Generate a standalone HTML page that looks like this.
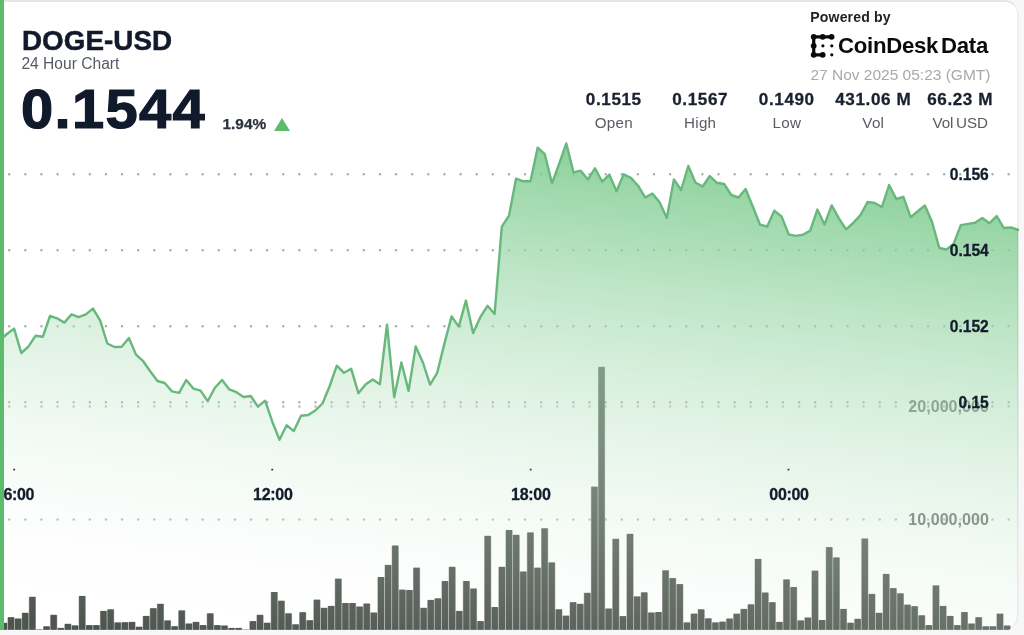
<!DOCTYPE html>
<html lang="en">
<head>
<meta charset="utf-8">
<title>DOGE-USD 24 Hour Chart</title>
<style>
  html, body { margin:0; padding:0; }
  body { width:1024px; height:635px; overflow:hidden; background:#f7f7f7; position:relative;
         font-family:"Liberation Sans", sans-serif; color:#101a2b; }
  .card { position:absolute; left:0; top:0; width:1019.4px; height:631.2px; background:#fff;
          border-radius:0 14px 16px 0; overflow:hidden; box-sizing:border-box; }
  .frame { position:absolute; left:-20px; top:0; width:1039.4px; height:631.2px; box-sizing:border-box;
           border:2.3px solid rgba(0,0,0,0.062); border-top:2px solid #e6e6e6; border-bottom:1px solid rgba(0,0,0,0.03); border-radius:0 14px 16px 0; pointer-events:none; }
  .accent { position:absolute; left:0; top:0; width:3.6px; height:630px; background:#5dbb6d; }
  svg.chart { position:absolute; left:0; top:0; }
  .t { position:absolute; white-space:nowrap; line-height:1; margin:0; }
  .pair   { left:22px; top:26.6px; font-size:27.8px; font-weight:700; letter-spacing:0.05px; -webkit-text-stroke:0.5px #101a2b; }
  .sub    { left:21.4px; top:55.6px; font-size:15.6px; font-weight:400; color:#555b62; }
  .price  { left:20.9px; top:82.1px; font-size:55.4px; font-weight:700; letter-spacing:1.25px; -webkit-text-stroke:1.2px #101a2b; transform:scaleX(1.045); transform-origin:0 0; }
  .chg    { left:222.4px; top:115.9px; font-size:15.4px; font-weight:700; color:#2c333d; letter-spacing:0.05px; -webkit-text-stroke:0.25px #2c333d; }
  .tri    { position:absolute; left:274.2px; top:117.9px; width:0; height:0; border-left:8.6px solid transparent; border-right:8.6px solid transparent; border-bottom:13.8px solid #5dbb6d; }
  .pow    { left:810.3px; top:9.5px; font-size:14.1px; font-weight:700; color:#222; letter-spacing:0.12px; }
  .brand  { left:838px; top:35.1px; font-size:22.2px; font-weight:700; color:#0a0a0a; letter-spacing:-0.28px; word-spacing:-3px; }
  .date   { left:810.4px; top:67.4px; font-size:15.5px; color:#a9a9a9; }
  .stat   { position:absolute; top:0; width:120px; margin-left:-60px; text-align:center; }
  .stat b { position:absolute; left:0; right:0; top:90.6px; font-size:17.1px; font-weight:700; line-height:1; color:#1a2230; letter-spacing:0.6px; white-space:nowrap; -webkit-text-stroke:0.3px #1a2230; }
  .stat span { position:absolute; left:0; right:0; top:114.9px; font-size:15.2px; line-height:1; color:#575c63; letter-spacing:0.25px; white-space:nowrap; }
</style>
</head>
<body>
<main class="card">
  <svg class="chart" width="1024" height="635" viewBox="0 0 1024 635" role="img" aria-label="DOGE-USD 24 hour price and volume chart">
    <defs>
      <linearGradient id="fill" x1="0" y1="-16.0" x2="-78.14" y2="604.15" gradientUnits="userSpaceOnUse">
        <stop offset="0.0000" stop-color="#63c178" stop-opacity="1.0000"/>
        <stop offset="0.0417" stop-color="#6ac47e" stop-opacity="0.9583"/>
        <stop offset="0.0833" stop-color="#70c683" stop-opacity="0.9167"/>
        <stop offset="0.1250" stop-color="#76c989" stop-opacity="0.8750"/>
        <stop offset="0.1667" stop-color="#7dcb8e" stop-opacity="0.8333"/>
        <stop offset="0.2083" stop-color="#84ce94" stop-opacity="0.7917"/>
        <stop offset="0.2500" stop-color="#8ad09a" stop-opacity="0.7500"/>
        <stop offset="0.2917" stop-color="#90d39f" stop-opacity="0.7083"/>
        <stop offset="0.3333" stop-color="#97d6a5" stop-opacity="0.6667"/>
        <stop offset="0.3750" stop-color="#9ed8ab" stop-opacity="0.6250"/>
        <stop offset="0.4167" stop-color="#a4dbb0" stop-opacity="0.5833"/>
        <stop offset="0.4583" stop-color="#aaddb6" stop-opacity="0.5417"/>
        <stop offset="0.5000" stop-color="#b1e0bc" stop-opacity="0.5000"/>
        <stop offset="0.5417" stop-color="#b8e3c1" stop-opacity="0.4583"/>
        <stop offset="0.5833" stop-color="#bee5c7" stop-opacity="0.4167"/>
        <stop offset="0.6250" stop-color="#c4e8cc" stop-opacity="0.3750"/>
        <stop offset="0.6667" stop-color="#cbead2" stop-opacity="0.3333"/>
        <stop offset="0.7083" stop-color="#d2edd8" stop-opacity="0.2917"/>
        <stop offset="0.7500" stop-color="#d8f0dd" stop-opacity="0.2500"/>
        <stop offset="0.7917" stop-color="#def2e3" stop-opacity="0.2083"/>
        <stop offset="0.8333" stop-color="#e5f5e8" stop-opacity="0.1667"/>
        <stop offset="0.8750" stop-color="#ecf7ee" stop-opacity="0.1250"/>
        <stop offset="0.9167" stop-color="#f2faf4" stop-opacity="0.0833"/>
        <stop offset="0.9583" stop-color="#f8fcf9" stop-opacity="0.0417"/>
        <stop offset="1.0000" stop-color="#ffffff" stop-opacity="0.0000"/>
      </linearGradient>    </defs>
    <g>
<line x1="9.2" y1="174.3" x2="1018" y2="174.3" stroke="#8e8e8e" stroke-opacity="0.72" stroke-width="2.5" stroke-linecap="round" stroke-dasharray="0.01 16.11" />
<line x1="9.2" y1="250.2" x2="1018" y2="250.2" stroke="#8e8e8e" stroke-opacity="0.72" stroke-width="2.5" stroke-linecap="round" stroke-dasharray="0.01 16.11" />
<line x1="9.2" y1="326.3" x2="1018" y2="326.3" stroke="#8e8e8e" stroke-opacity="0.72" stroke-width="2.5" stroke-linecap="round" stroke-dasharray="0.01 16.11" />
<line x1="9.2" y1="402.2" x2="1018" y2="402.2" stroke="#8e8e8e" stroke-opacity="0.72" stroke-width="2.5" stroke-linecap="round" stroke-dasharray="0.01 16.11" />
<line x1="9.2" y1="406.6" x2="1018" y2="406.6" stroke="#8e8e8e" stroke-opacity="0.62" stroke-width="2.5" stroke-linecap="round" stroke-dasharray="0.01 16.11" />
<line x1="9.2" y1="519.5" x2="1018" y2="519.5" stroke="#8e8e8e" stroke-opacity="0.62" stroke-width="2.5" stroke-linecap="round" stroke-dasharray="0.01 16.11" />
    </g>
    <g fill="#4e554e" fill-opacity="0.45">
<rect x="0.29" y="623.2" width="7.21" height="6.6"/>
<rect x="7.41" y="617.6" width="7.21" height="12.2"/>
<rect x="14.52" y="618.9" width="7.21" height="10.9"/>
<rect x="21.64" y="613.2" width="7.21" height="16.6"/>
<rect x="28.75" y="597.2" width="7.21" height="32.6"/>
<rect x="35.87" y="629.6" width="7.21" height="0.2"/>
<rect x="42.98" y="626.7" width="7.21" height="3.1"/>
<rect x="50.10" y="615.2" width="7.21" height="14.6"/>
<rect x="57.21" y="628.3" width="7.21" height="1.5"/>
<rect x="64.33" y="624.2" width="7.21" height="5.6"/>
<rect x="71.44" y="625.8" width="7.21" height="4.0"/>
<rect x="78.56" y="596.3" width="7.21" height="33.5"/>
<rect x="85.67" y="625.5" width="7.21" height="4.3"/>
<rect x="92.79" y="625.5" width="7.21" height="4.3"/>
<rect x="99.90" y="611.3" width="7.21" height="18.5"/>
<rect x="107.02" y="609.7" width="7.21" height="20.1"/>
<rect x="114.13" y="622.8" width="7.21" height="7.0"/>
<rect x="121.25" y="622.6" width="7.21" height="7.2"/>
<rect x="128.36" y="622.3" width="7.21" height="7.5"/>
<rect x="135.48" y="627.1" width="7.21" height="2.7"/>
<rect x="142.59" y="616.3" width="7.21" height="13.5"/>
<rect x="149.71" y="608.6" width="7.21" height="21.2"/>
<rect x="156.82" y="604.2" width="7.21" height="25.6"/>
<rect x="163.94" y="620.8" width="7.21" height="9.0"/>
<rect x="171.05" y="626.6" width="7.21" height="3.2"/>
<rect x="178.17" y="610.8" width="7.21" height="19.0"/>
<rect x="185.28" y="623.9" width="7.21" height="5.9"/>
<rect x="192.40" y="622.3" width="7.21" height="7.5"/>
<rect x="199.51" y="625.5" width="7.21" height="4.3"/>
<rect x="206.63" y="613.7" width="7.21" height="16.1"/>
<rect x="213.74" y="625.5" width="7.21" height="4.3"/>
<rect x="220.86" y="625.9" width="7.21" height="3.9"/>
<rect x="227.97" y="628.3" width="7.21" height="1.5"/>
<rect x="235.09" y="628.3" width="7.21" height="1.5"/>
<rect x="242.20" y="629.6" width="7.21" height="0.2"/>
<rect x="249.32" y="621.5" width="7.21" height="8.3"/>
<rect x="256.43" y="615.2" width="7.21" height="14.6"/>
<rect x="263.55" y="623.1" width="7.21" height="6.7"/>
<rect x="270.66" y="592.4" width="7.21" height="37.4"/>
<rect x="277.78" y="601.1" width="7.21" height="28.7"/>
<rect x="284.89" y="613.7" width="7.21" height="16.1"/>
<rect x="292.01" y="624.7" width="7.21" height="5.1"/>
<rect x="299.12" y="612.6" width="7.21" height="17.2"/>
<rect x="306.24" y="620.6" width="7.21" height="9.2"/>
<rect x="313.35" y="600.0" width="7.21" height="29.8"/>
<rect x="320.47" y="608.2" width="7.21" height="21.6"/>
<rect x="327.58" y="606.3" width="7.21" height="23.5"/>
<rect x="334.70" y="579.0" width="7.21" height="50.8"/>
<rect x="341.81" y="603.4" width="7.21" height="26.4"/>
<rect x="348.93" y="603.4" width="7.21" height="26.4"/>
<rect x="356.04" y="606.9" width="7.21" height="22.9"/>
<rect x="363.16" y="603.9" width="7.21" height="25.9"/>
<rect x="370.27" y="612.9" width="7.21" height="16.9"/>
<rect x="377.39" y="577.4" width="7.21" height="52.4"/>
<rect x="384.50" y="565.3" width="7.21" height="64.5"/>
<rect x="391.62" y="545.9" width="7.21" height="83.9"/>
<rect x="398.73" y="590.0" width="7.21" height="39.8"/>
<rect x="405.85" y="590.4" width="7.21" height="39.4"/>
<rect x="412.96" y="568.0" width="7.21" height="61.8"/>
<rect x="420.08" y="608.2" width="7.21" height="21.6"/>
<rect x="427.19" y="600.3" width="7.21" height="29.5"/>
<rect x="434.31" y="598.7" width="7.21" height="31.1"/>
<rect x="441.42" y="581.4" width="7.21" height="48.4"/>
<rect x="448.54" y="567.2" width="7.21" height="62.6"/>
<rect x="455.65" y="611.3" width="7.21" height="18.5"/>
<rect x="462.77" y="581.4" width="7.21" height="48.4"/>
<rect x="469.88" y="588.9" width="7.21" height="40.9"/>
<rect x="477.00" y="621.5" width="7.21" height="8.3"/>
<rect x="484.11" y="536.2" width="7.21" height="93.6"/>
<rect x="491.23" y="607.4" width="7.21" height="22.4"/>
<rect x="498.34" y="567.2" width="7.21" height="62.6"/>
<rect x="505.46" y="530.4" width="7.21" height="99.4"/>
<rect x="512.57" y="535.2" width="7.21" height="94.6"/>
<rect x="519.69" y="571.9" width="7.21" height="57.9"/>
<rect x="526.80" y="532.8" width="7.21" height="97.0"/>
<rect x="533.92" y="568.0" width="7.21" height="61.8"/>
<rect x="541.03" y="528.7" width="7.21" height="101.1"/>
<rect x="548.15" y="562.8" width="7.21" height="67.0"/>
<rect x="555.26" y="609.7" width="7.21" height="20.1"/>
<rect x="562.38" y="616.0" width="7.21" height="13.8"/>
<rect x="569.49" y="602.6" width="7.21" height="27.2"/>
<rect x="576.61" y="604.2" width="7.21" height="25.6"/>
<rect x="583.72" y="593.2" width="7.21" height="36.6"/>
<rect x="590.84" y="487.0" width="7.21" height="142.8"/>
<rect x="597.95" y="367.2" width="7.21" height="262.6"/>
<rect x="605.07" y="608.9" width="7.21" height="20.9"/>
<rect x="612.18" y="539.2" width="7.21" height="90.6"/>
<rect x="619.30" y="616.5" width="7.21" height="13.3"/>
<rect x="626.41" y="534.2" width="7.21" height="95.6"/>
<rect x="633.53" y="596.8" width="7.21" height="33.0"/>
<rect x="640.64" y="592.7" width="7.21" height="37.1"/>
<rect x="647.76" y="612.9" width="7.21" height="16.9"/>
<rect x="654.87" y="612.4" width="7.21" height="17.4"/>
<rect x="661.99" y="570.7" width="7.21" height="59.1"/>
<rect x="669.10" y="578.5" width="7.21" height="51.3"/>
<rect x="676.22" y="584.5" width="7.21" height="45.3"/>
<rect x="683.33" y="622.8" width="7.21" height="7.0"/>
<rect x="690.45" y="614.0" width="7.21" height="15.8"/>
<rect x="697.56" y="609.7" width="7.21" height="20.1"/>
<rect x="704.68" y="618.7" width="7.21" height="11.1"/>
<rect x="711.79" y="622.8" width="7.21" height="7.0"/>
<rect x="718.91" y="622.0" width="7.21" height="7.8"/>
<rect x="726.02" y="618.9" width="7.21" height="10.9"/>
<rect x="733.14" y="614.0" width="7.21" height="15.8"/>
<rect x="740.25" y="609.3" width="7.21" height="20.5"/>
<rect x="747.37" y="604.7" width="7.21" height="25.1"/>
<rect x="754.48" y="559.3" width="7.21" height="70.5"/>
<rect x="761.60" y="592.9" width="7.21" height="36.9"/>
<rect x="768.71" y="602.6" width="7.21" height="27.2"/>
<rect x="775.83" y="622.3" width="7.21" height="7.5"/>
<rect x="782.94" y="579.8" width="7.21" height="50.0"/>
<rect x="790.06" y="587.4" width="7.21" height="42.4"/>
<rect x="797.17" y="620.8" width="7.21" height="9.0"/>
<rect x="804.29" y="617.9" width="7.21" height="11.9"/>
<rect x="811.40" y="571.0" width="7.21" height="58.8"/>
<rect x="818.52" y="620.4" width="7.21" height="9.4"/>
<rect x="825.63" y="547.5" width="7.21" height="82.3"/>
<rect x="832.75" y="557.8" width="7.21" height="72.0"/>
<rect x="839.86" y="609.3" width="7.21" height="20.5"/>
<rect x="846.98" y="623.1" width="7.21" height="6.7"/>
<rect x="854.09" y="619.2" width="7.21" height="10.6"/>
<rect x="861.21" y="538.9" width="7.21" height="90.9"/>
<rect x="868.32" y="594.3" width="7.21" height="35.5"/>
<rect x="875.44" y="613.2" width="7.21" height="16.6"/>
<rect x="882.55" y="574.3" width="7.21" height="55.5"/>
<rect x="889.67" y="588.5" width="7.21" height="41.3"/>
<rect x="896.78" y="593.7" width="7.21" height="36.1"/>
<rect x="903.90" y="605.0" width="7.21" height="24.8"/>
<rect x="911.01" y="606.6" width="7.21" height="23.2"/>
<rect x="918.13" y="615.7" width="7.21" height="14.1"/>
<rect x="925.24" y="625.5" width="7.21" height="4.3"/>
<rect x="932.36" y="585.8" width="7.21" height="44.0"/>
<rect x="939.47" y="606.3" width="7.21" height="23.5"/>
<rect x="946.59" y="616.3" width="7.21" height="13.5"/>
<rect x="953.70" y="625.5" width="7.21" height="4.3"/>
<rect x="960.82" y="612.4" width="7.21" height="17.4"/>
<rect x="967.93" y="623.9" width="7.21" height="5.9"/>
<rect x="975.05" y="617.6" width="7.21" height="12.2"/>
<rect x="982.16" y="626.7" width="7.21" height="3.1"/>
<rect x="989.28" y="626.7" width="7.21" height="3.1"/>
<rect x="996.39" y="614.0" width="7.21" height="15.8"/>
<rect x="1003.51" y="625.9" width="7.21" height="3.9"/>
    </g>
    <g fill="#4e554e">
<rect x="0.80" y="622.8" width="6.2" height="7.0"/>
<rect x="7.92" y="617.2" width="6.2" height="12.6"/>
<rect x="15.03" y="618.5" width="6.2" height="11.3"/>
<rect x="22.14" y="612.8" width="6.2" height="17.0"/>
<rect x="29.26" y="596.8" width="6.2" height="33.0"/>
<rect x="36.38" y="629.3" width="6.2" height="0.5"/>
<rect x="43.49" y="626.3" width="6.2" height="3.5"/>
<rect x="50.60" y="614.8" width="6.2" height="15.0"/>
<rect x="57.72" y="627.9" width="6.2" height="1.9"/>
<rect x="64.84" y="623.8" width="6.2" height="6.0"/>
<rect x="71.95" y="625.4" width="6.2" height="4.4"/>
<rect x="79.07" y="595.9" width="6.2" height="33.9"/>
<rect x="86.18" y="625.1" width="6.2" height="4.7"/>
<rect x="93.30" y="625.1" width="6.2" height="4.7"/>
<rect x="100.41" y="610.9" width="6.2" height="18.9"/>
<rect x="107.53" y="609.3" width="6.2" height="20.5"/>
<rect x="114.64" y="622.4" width="6.2" height="7.4"/>
<rect x="121.76" y="622.2" width="6.2" height="7.6"/>
<rect x="128.87" y="621.9" width="6.2" height="7.9"/>
<rect x="135.99" y="626.7" width="6.2" height="3.1"/>
<rect x="143.10" y="615.9" width="6.2" height="13.9"/>
<rect x="150.22" y="608.2" width="6.2" height="21.6"/>
<rect x="157.33" y="603.8" width="6.2" height="26.0"/>
<rect x="164.45" y="620.4" width="6.2" height="9.4"/>
<rect x="171.56" y="626.2" width="6.2" height="3.6"/>
<rect x="178.68" y="610.4" width="6.2" height="19.4"/>
<rect x="185.79" y="623.5" width="6.2" height="6.3"/>
<rect x="192.91" y="621.9" width="6.2" height="7.9"/>
<rect x="200.02" y="625.1" width="6.2" height="4.7"/>
<rect x="207.14" y="613.3" width="6.2" height="16.5"/>
<rect x="214.25" y="625.1" width="6.2" height="4.7"/>
<rect x="221.37" y="625.5" width="6.2" height="4.3"/>
<rect x="228.48" y="627.9" width="6.2" height="1.9"/>
<rect x="235.60" y="627.9" width="6.2" height="1.9"/>
<rect x="242.71" y="629.5" width="6.2" height="0.3"/>
<rect x="249.83" y="621.1" width="6.2" height="8.7"/>
<rect x="256.94" y="614.8" width="6.2" height="15.0"/>
<rect x="264.05" y="622.7" width="6.2" height="7.1"/>
<rect x="271.17" y="592.0" width="6.2" height="37.8"/>
<rect x="278.28" y="600.7" width="6.2" height="29.1"/>
<rect x="285.40" y="613.3" width="6.2" height="16.5"/>
<rect x="292.51" y="624.3" width="6.2" height="5.5"/>
<rect x="299.63" y="612.2" width="6.2" height="17.6"/>
<rect x="306.74" y="620.2" width="6.2" height="9.6"/>
<rect x="313.86" y="599.6" width="6.2" height="30.2"/>
<rect x="320.97" y="607.8" width="6.2" height="22.0"/>
<rect x="328.09" y="605.9" width="6.2" height="23.9"/>
<rect x="335.20" y="578.6" width="6.2" height="51.2"/>
<rect x="342.32" y="603.0" width="6.2" height="26.8"/>
<rect x="349.43" y="603.0" width="6.2" height="26.8"/>
<rect x="356.55" y="606.5" width="6.2" height="23.3"/>
<rect x="363.66" y="603.5" width="6.2" height="26.3"/>
<rect x="370.78" y="612.5" width="6.2" height="17.3"/>
<rect x="377.89" y="577.0" width="6.2" height="52.8"/>
<rect x="385.01" y="564.9" width="6.2" height="64.9"/>
<rect x="392.12" y="545.5" width="6.2" height="84.3"/>
<rect x="399.24" y="589.6" width="6.2" height="40.2"/>
<rect x="406.35" y="590.0" width="6.2" height="39.8"/>
<rect x="413.47" y="567.6" width="6.2" height="62.2"/>
<rect x="420.58" y="607.8" width="6.2" height="22.0"/>
<rect x="427.70" y="599.9" width="6.2" height="29.9"/>
<rect x="434.81" y="598.3" width="6.2" height="31.5"/>
<rect x="441.93" y="581.0" width="6.2" height="48.8"/>
<rect x="449.04" y="566.8" width="6.2" height="63.0"/>
<rect x="456.16" y="610.9" width="6.2" height="18.9"/>
<rect x="463.27" y="581.0" width="6.2" height="48.8"/>
<rect x="470.39" y="588.5" width="6.2" height="41.3"/>
<rect x="477.50" y="621.1" width="6.2" height="8.7"/>
<rect x="484.62" y="535.8" width="6.2" height="94.0"/>
<rect x="491.73" y="607.0" width="6.2" height="22.8"/>
<rect x="498.85" y="566.8" width="6.2" height="63.0"/>
<rect x="505.96" y="530.0" width="6.2" height="99.8"/>
<rect x="513.08" y="534.8" width="6.2" height="95.0"/>
<rect x="520.19" y="571.5" width="6.2" height="58.3"/>
<rect x="527.31" y="532.4" width="6.2" height="97.4"/>
<rect x="534.42" y="567.6" width="6.2" height="62.2"/>
<rect x="541.54" y="528.3" width="6.2" height="101.5"/>
<rect x="548.65" y="562.4" width="6.2" height="67.4"/>
<rect x="555.77" y="609.3" width="6.2" height="20.5"/>
<rect x="562.88" y="615.6" width="6.2" height="14.2"/>
<rect x="570.00" y="602.2" width="6.2" height="27.6"/>
<rect x="577.12" y="603.8" width="6.2" height="26.0"/>
<rect x="584.23" y="592.8" width="6.2" height="37.0"/>
<rect x="591.35" y="486.6" width="6.2" height="143.2"/>
<rect x="598.46" y="366.8" width="6.2" height="263.0"/>
<rect x="605.57" y="608.5" width="6.2" height="21.3"/>
<rect x="612.69" y="538.8" width="6.2" height="91.0"/>
<rect x="619.80" y="616.1" width="6.2" height="13.7"/>
<rect x="626.92" y="533.8" width="6.2" height="96.0"/>
<rect x="634.03" y="596.4" width="6.2" height="33.4"/>
<rect x="641.15" y="592.3" width="6.2" height="37.5"/>
<rect x="648.26" y="612.5" width="6.2" height="17.3"/>
<rect x="655.38" y="612.0" width="6.2" height="17.8"/>
<rect x="662.50" y="570.3" width="6.2" height="59.5"/>
<rect x="669.61" y="578.1" width="6.2" height="51.7"/>
<rect x="676.73" y="584.1" width="6.2" height="45.7"/>
<rect x="683.84" y="622.4" width="6.2" height="7.4"/>
<rect x="690.95" y="613.6" width="6.2" height="16.2"/>
<rect x="698.07" y="609.3" width="6.2" height="20.5"/>
<rect x="705.18" y="618.3" width="6.2" height="11.5"/>
<rect x="712.30" y="622.4" width="6.2" height="7.4"/>
<rect x="719.41" y="621.6" width="6.2" height="8.2"/>
<rect x="726.53" y="618.5" width="6.2" height="11.3"/>
<rect x="733.64" y="613.6" width="6.2" height="16.2"/>
<rect x="740.76" y="608.9" width="6.2" height="20.9"/>
<rect x="747.88" y="604.3" width="6.2" height="25.5"/>
<rect x="754.99" y="558.9" width="6.2" height="70.9"/>
<rect x="762.11" y="592.5" width="6.2" height="37.3"/>
<rect x="769.22" y="602.2" width="6.2" height="27.6"/>
<rect x="776.33" y="621.9" width="6.2" height="7.9"/>
<rect x="783.45" y="579.4" width="6.2" height="50.4"/>
<rect x="790.56" y="587.0" width="6.2" height="42.8"/>
<rect x="797.68" y="620.4" width="6.2" height="9.4"/>
<rect x="804.79" y="617.5" width="6.2" height="12.3"/>
<rect x="811.91" y="570.6" width="6.2" height="59.2"/>
<rect x="819.02" y="620.0" width="6.2" height="9.8"/>
<rect x="826.14" y="547.1" width="6.2" height="82.7"/>
<rect x="833.25" y="557.4" width="6.2" height="72.4"/>
<rect x="840.37" y="608.9" width="6.2" height="20.9"/>
<rect x="847.49" y="622.7" width="6.2" height="7.1"/>
<rect x="854.60" y="618.8" width="6.2" height="11.0"/>
<rect x="861.72" y="538.5" width="6.2" height="91.3"/>
<rect x="868.83" y="593.9" width="6.2" height="35.9"/>
<rect x="875.94" y="612.8" width="6.2" height="17.0"/>
<rect x="883.06" y="573.9" width="6.2" height="55.9"/>
<rect x="890.17" y="588.1" width="6.2" height="41.7"/>
<rect x="897.29" y="593.3" width="6.2" height="36.5"/>
<rect x="904.40" y="604.6" width="6.2" height="25.2"/>
<rect x="911.52" y="606.2" width="6.2" height="23.6"/>
<rect x="918.63" y="615.3" width="6.2" height="14.5"/>
<rect x="925.75" y="625.1" width="6.2" height="4.7"/>
<rect x="932.87" y="585.4" width="6.2" height="44.4"/>
<rect x="939.98" y="605.9" width="6.2" height="23.9"/>
<rect x="947.10" y="615.9" width="6.2" height="13.9"/>
<rect x="954.21" y="625.1" width="6.2" height="4.7"/>
<rect x="961.32" y="612.0" width="6.2" height="17.8"/>
<rect x="968.44" y="623.5" width="6.2" height="6.3"/>
<rect x="975.55" y="617.2" width="6.2" height="12.6"/>
<rect x="982.67" y="626.3" width="6.2" height="3.5"/>
<rect x="989.78" y="626.3" width="6.2" height="3.5"/>
<rect x="996.90" y="613.6" width="6.2" height="16.2"/>
<rect x="1004.01" y="625.5" width="6.2" height="4.3"/>
    </g>
    <g font-family="Liberation Sans, sans-serif" font-weight="700" font-size="16.1" fill="#6a6a6a" text-anchor="end">
      <text x="988.9" y="412.4">20,000,000</text>
      <text x="988.9" y="525.3">10,000,000</text>
    </g>
    <path d="M-0.2,340.0 L6.9,334.0 L14.1,328.6 L21.3,353.0 L28.4,346.7 L35.6,335.7 L42.8,336.8 L50.0,316.0 L57.1,318.3 L64.3,322.6 L71.5,314.4 L78.6,317.1 L85.8,314.4 L93.0,308.6 L100.2,320.7 L107.3,343.5 L114.5,347.0 L121.7,346.7 L128.9,338.0 L136.0,354.6 L143.2,361.2 L150.4,371.5 L157.5,381.0 L164.7,383.0 L171.9,391.3 L179.1,392.8 L186.2,380.0 L193.4,388.6 L200.6,390.6 L207.7,401.2 L214.9,387.8 L222.1,380.0 L229.3,389.4 L236.4,392.2 L243.6,397.0 L250.8,396.0 L257.9,406.7 L265.1,400.7 L272.3,421.7 L279.5,439.8 L286.6,425.3 L293.8,431.1 L301.0,415.8 L308.2,415.0 L315.3,410.5 L322.5,403.5 L329.7,386.0 L336.8,365.7 L344.0,372.8 L351.2,368.8 L358.4,393.2 L365.5,384.6 L372.7,379.5 L379.9,384.3 L387.0,324.7 L394.2,397.2 L401.4,362.5 L408.6,390.9 L415.7,346.5 L422.9,362.5 L430.1,384.6 L437.2,372.8 L444.4,343.6 L451.6,316.4 L458.8,326.6 L465.9,300.6 L473.1,333.0 L480.3,317.2 L487.5,305.8 L494.6,314.0 L501.8,226.6 L509.0,215.6 L516.1,178.6 L523.3,181.3 L530.5,181.3 L537.7,147.6 L544.8,154.2 L552.0,183.3 L559.2,163.6 L566.3,143.5 L573.5,172.3 L580.7,170.7 L587.9,179.4 L595.0,168.3 L602.2,181.7 L609.4,174.6 L616.5,191.2 L623.7,174.3 L630.9,177.8 L638.1,185.7 L645.2,197.5 L652.4,193.5 L659.6,202.2 L666.8,218.0 L673.9,179.4 L681.1,190.0 L688.3,166.0 L695.4,182.5 L702.6,186.5 L709.8,176.0 L717.0,182.8 L724.1,184.0 L731.3,195.0 L738.5,197.5 L745.6,189.0 L752.8,206.5 L760.0,224.6 L767.2,226.5 L774.3,210.7 L781.5,216.4 L788.7,234.3 L795.8,235.9 L803.0,234.8 L810.2,230.6 L817.4,209.6 L824.5,224.6 L831.7,205.4 L838.9,218.3 L846.1,229.3 L853.2,223.0 L860.4,215.1 L867.6,202.0 L874.7,203.0 L881.9,207.0 L889.1,185.0 L896.3,199.0 L903.4,196.8 L910.6,217.2 L917.8,211.3 L924.9,205.4 L932.1,222.0 L939.3,248.0 L946.5,249.5 L953.6,244.0 L960.8,225.1 L968.0,223.9 L975.1,222.8 L982.3,218.0 L989.5,223.2 L996.7,216.1 L1003.8,228.0 L1011.0,227.5 L1018.2,229.8 L1018.2,632 L-0.2,632 Z" fill="url(#fill)"/>
    <path d="M-0.2,340.0 L6.9,334.0 L14.1,328.6 L21.3,353.0 L28.4,346.7 L35.6,335.7 L42.8,336.8 L50.0,316.0 L57.1,318.3 L64.3,322.6 L71.5,314.4 L78.6,317.1 L85.8,314.4 L93.0,308.6 L100.2,320.7 L107.3,343.5 L114.5,347.0 L121.7,346.7 L128.9,338.0 L136.0,354.6 L143.2,361.2 L150.4,371.5 L157.5,381.0 L164.7,383.0 L171.9,391.3 L179.1,392.8 L186.2,380.0 L193.4,388.6 L200.6,390.6 L207.7,401.2 L214.9,387.8 L222.1,380.0 L229.3,389.4 L236.4,392.2 L243.6,397.0 L250.8,396.0 L257.9,406.7 L265.1,400.7 L272.3,421.7 L279.5,439.8 L286.6,425.3 L293.8,431.1 L301.0,415.8 L308.2,415.0 L315.3,410.5 L322.5,403.5 L329.7,386.0 L336.8,365.7 L344.0,372.8 L351.2,368.8 L358.4,393.2 L365.5,384.6 L372.7,379.5 L379.9,384.3 L387.0,324.7 L394.2,397.2 L401.4,362.5 L408.6,390.9 L415.7,346.5 L422.9,362.5 L430.1,384.6 L437.2,372.8 L444.4,343.6 L451.6,316.4 L458.8,326.6 L465.9,300.6 L473.1,333.0 L480.3,317.2 L487.5,305.8 L494.6,314.0 L501.8,226.6 L509.0,215.6 L516.1,178.6 L523.3,181.3 L530.5,181.3 L537.7,147.6 L544.8,154.2 L552.0,183.3 L559.2,163.6 L566.3,143.5 L573.5,172.3 L580.7,170.7 L587.9,179.4 L595.0,168.3 L602.2,181.7 L609.4,174.6 L616.5,191.2 L623.7,174.3 L630.9,177.8 L638.1,185.7 L645.2,197.5 L652.4,193.5 L659.6,202.2 L666.8,218.0 L673.9,179.4 L681.1,190.0 L688.3,166.0 L695.4,182.5 L702.6,186.5 L709.8,176.0 L717.0,182.8 L724.1,184.0 L731.3,195.0 L738.5,197.5 L745.6,189.0 L752.8,206.5 L760.0,224.6 L767.2,226.5 L774.3,210.7 L781.5,216.4 L788.7,234.3 L795.8,235.9 L803.0,234.8 L810.2,230.6 L817.4,209.6 L824.5,224.6 L831.7,205.4 L838.9,218.3 L846.1,229.3 L853.2,223.0 L860.4,215.1 L867.6,202.0 L874.7,203.0 L881.9,207.0 L889.1,185.0 L896.3,199.0 L903.4,196.8 L910.6,217.2 L917.8,211.3 L924.9,205.4 L932.1,222.0 L939.3,248.0 L946.5,249.5 L953.6,244.0 L960.8,225.1 L968.0,223.9 L975.1,222.8 L982.3,218.0 L989.5,223.2 L996.7,216.1 L1003.8,228.0 L1011.0,227.5 L1018.2,229.8" fill="none" stroke="#68b77c" stroke-width="2.4" stroke-linejoin="round" stroke-linecap="round"/>
    <g fill="#2a2f33">
      <rect x="13.3" y="468.8" width="1.8" height="1.6"/>
      <rect x="271.3" y="468.8" width="1.8" height="1.6"/>
      <rect x="529.8" y="468.8" width="1.8" height="1.6"/>
      <rect x="787.6" y="468.8" width="1.8" height="1.6"/>
    </g>
    <g font-family="Liberation Sans, sans-serif" font-weight="700" font-size="16" fill="#121c2c" stroke="#121c2c" stroke-width="0.3" paint-order="stroke">
      <g text-anchor="middle" letter-spacing="-0.3">
        <text x="14.5" y="500">06:00</text>
        <text x="272.8" y="500">12:00</text>
        <text x="530.8" y="500">18:00</text>
        <text x="789" y="500">00:00</text>
      </g>
      <g text-anchor="end" font-size="15.6">
        <text x="988.8" y="180">0.156</text>
        <text x="988.8" y="256">0.154</text>
        <text x="988.8" y="332">0.152</text>
        <text x="988.8" y="407.8">0.15</text>
      </g>
    </g>
  </svg>

  <h1 class="t pair">DOGE-USD</h1>
  <div class="t sub">24 Hour Chart</div>
  <div class="t price">0.1544</div>
  <div class="t chg">1.94%</div>
  <div class="tri"></div>

  <div class="t pow">Powered by</div>
  <svg style="position:absolute;left:808px;top:31px" width="30" height="30" viewBox="808 31 30 30" aria-hidden="true">
    <g stroke="#0a0a0a" stroke-width="3.2" stroke-linecap="round" fill="none">
      <path d="M831.6,36.8 L813.7,36.8 L813.7,54.8 L822.7,54.8"/>
    </g>
    <g fill="#0a0a0a">
      <circle cx="813.7" cy="36.8" r="2.9"/><circle cx="822.7" cy="36.8" r="2.9"/><circle cx="831.6" cy="36.8" r="2.9"/>
      <circle cx="813.7" cy="45.8" r="2.9"/><circle cx="813.7" cy="54.8" r="2.9"/><circle cx="822.7" cy="54.8" r="2.9"/>
      <circle cx="822.9" cy="45.8" r="1.6"/><circle cx="831.8" cy="45.8" r="1.6"/><circle cx="831.8" cy="54.8" r="1.6"/>
    </g>
  </svg>
  <div class="t brand">CoinDesk Data</div>
  <div class="t date">27 Nov 2025 05:23 (GMT)</div>

  <div class="stat" style="left:613.8px"><b>0.1515</b><span>Open</span></div>
  <div class="stat" style="left:700.2px"><b>0.1567</b><span>High</span></div>
  <div class="stat" style="left:786.8px"><b>0.1490</b><span>Low</span></div>
  <div class="stat" style="left:873.3px"><b>431.06 M</b><span>Vol</span></div>
  <div class="stat" style="left:960.2px"><b>66.23 M</b><span style="word-spacing:-1.6px;letter-spacing:-0.05px">Vol USD</span></div>

  <div class="frame"></div>
</main>
<div class="accent"></div>
</body>
</html>
